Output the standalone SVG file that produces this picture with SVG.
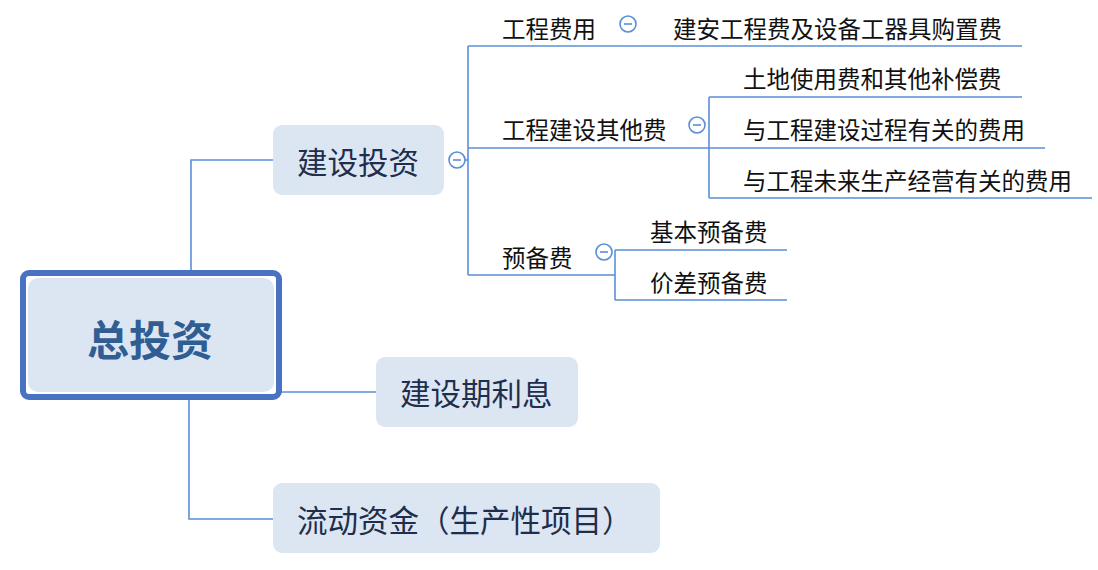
<svg xmlns="http://www.w3.org/2000/svg" width="1098" height="570" viewBox="0 0 1098 570">
<style>
  .ln{fill:none;stroke:#5B8FD6;stroke-width:1.6}
  .box{fill:#DCE6F2}
  .t1{font-family:"Noto Sans CJK SC","Microsoft YaHei",sans-serif;font-size:30.5px;fill:#1E2E4C;dominant-baseline:central}
  .t2{font-family:"Noto Sans CJK SC","Microsoft YaHei",sans-serif;font-size:23.5px;fill:#111;dominant-baseline:central}
  .col{fill:#fff;stroke:#5B8FD6;stroke-width:1.6}
  .cm{stroke:#5B8FD6;stroke-width:1.6}
</style>
<rect width="1098" height="570" fill="#fff"/>
<g id="connectors">
  <path class="ln" d="M191 270 V160 H273"/>
  <path class="ln" d="M281 392 H376"/>
  <path class="ln" d="M189 399 V519 H273"/>
  <path class="ln" d="M465 160 H468 M468 46 V275"/>
  <path class="ln" d="M468 46 H1022"/>
  <path class="ln" d="M468 148 H1045"/>
  <path class="ln" d="M709 97 V198 M709 97 H1022 M709 198 H1092"/>
  <path class="ln" d="M468 275 H615 M615 250 V300 M615 250 H787 M615 300 H787"/>
</g>
<g id="root">
  <rect x="23" y="273" width="256" height="124" rx="6" fill="#fff" stroke="#4A72C2" stroke-width="6"/>
  <rect x="28" y="278" width="246" height="114" rx="10" class="box"/>
  <text x="150" y="337" text-anchor="middle" font-family="'Noto Sans CJK SC','Microsoft YaHei',sans-serif" font-size="42" font-weight="bold" fill="#305E93" dominant-baseline="central">总投资</text>
</g>
<g id="n-jianshe">
  <rect x="273" y="125" width="171" height="70" rx="9" class="box"/>
  <text x="297" y="161" class="t1">建设投资</text>
  <circle cx="457" cy="160" r="8" class="col"/>
  <path class="cm" d="M453 160 H461"/>
</g>
<g id="n-lixi">
  <rect x="376" y="357" width="202" height="70" rx="9" class="box"/>
  <text x="400" y="392" class="t1">建设期利息</text>
</g>
<g id="n-liudong">
  <rect x="273" y="483" width="387" height="70" rx="9" class="box"/>
  <text x="297" y="519" class="t1">流动资金（生产性项目）</text>
</g>
<g id="n-gongcheng">
  <text x="502" y="28" class="t2">工程费用</text>
  <circle cx="628" cy="24" r="8" class="col"/>
  <path class="cm" d="M624 24 H632"/>
</g>
<g id="n-jianan">
  <text x="673" y="28" class="t2">建安工程费及设备工器具购置费</text>
</g>
<g id="n-qita">
  <text x="502" y="129" class="t2">工程建设其他费</text>
  <circle cx="697" cy="125" r="8" class="col"/>
  <path class="cm" d="M693 125 H701"/>
</g>
<g id="n-tudi"><text x="743" y="78" class="t2">土地使用费和其他补偿费</text></g>
<g id="n-guocheng"><text x="743" y="129" class="t2">与工程建设过程有关的费用</text></g>
<g id="n-weilai"><text x="743" y="180" class="t2">与工程未来生产经营有关的费用</text></g>
<g id="n-yubei">
  <text x="502" y="257" class="t2">预备费</text>
  <circle cx="604" cy="252" r="8" class="col"/>
  <path class="cm" d="M600 252 H608"/>
</g>
<g id="n-jiben"><text x="650" y="231" class="t2">基本预备费</text></g>
<g id="n-jiacha"><text x="650" y="282" class="t2">价差预备费</text></g>
</svg>
